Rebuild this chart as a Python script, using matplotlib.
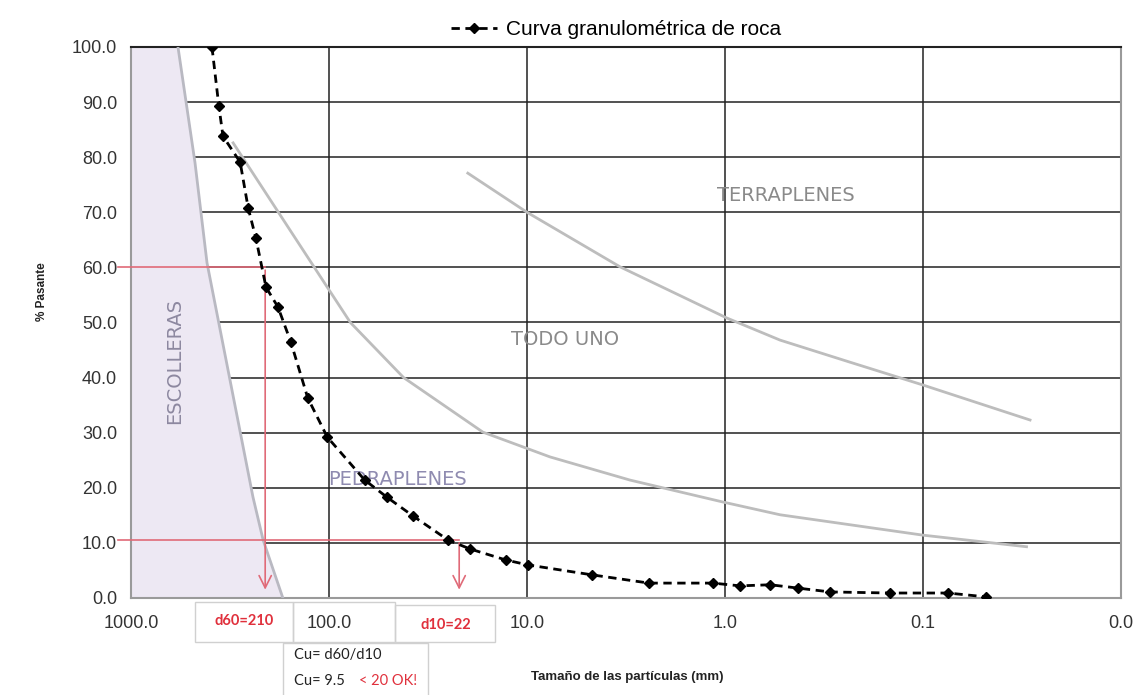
import numpy as np
import matplotlib.pyplot as plt
from matplotlib.ticker import FixedLocator, FuncFormatter

plt.rcParams['font.family'] = ['Liberation Sans', 'DejaVu Sans']

# curva granulometrica medida (tamaño en mm, % que pasa)
tamano = [390, 360, 343, 281, 256, 234, 208, 181, 156, 128, 102, 66, 51, 37.7,
          25, 19.4, 12.8, 9.9, 4.7, 2.42, 1.15, 0.84, 0.59, 0.43, 0.295, 0.147,
          0.0748, 0.048]
pasante = [100, 89.3, 83.8, 79.1, 70.8, 65.3, 56.4, 52.8, 46.5, 36.3, 29.2, 21.4,
           18.3, 14.9, 10.5, 8.9, 6.9, 6.0, 4.2, 2.7, 2.7, 2.2, 2.4, 1.8, 1.1,
           0.9, 0.9, 0.2]

# limites de los husos
escolleras_d = [579, 475, 413, 242, 215, 171]
escolleras_p = [100, 79, 60.8, 18.3, 10.5, 0]

pedraplen_d = [305, 102, 78, 42, 16.7, 7.65, 3.02, 1.02, 0.527, 0.1, 0.030]
pedraplen_p = [82.6, 56.4, 50, 40, 30.1, 25.6, 21.4, 17.4, 15.1, 11.4, 9.3]

terraplen_d = [19.9, 10, 3.39, 0.977, 0.527, 0.234, 0.101, 0.0288]
terraplen_p = [77.1, 70.0, 60.1, 50.8, 46.8, 42.8, 38.7, 32.3]

d60 = 210
d10 = 22
cu = 9.5

x_ticks = [1000, 100, 10, 1, 0.1, 0.01]
y_ticks = [0, 10, 20, 30, 40, 50, 60, 70, 80, 90, 100]

fig = plt.figure(figsize=(11.39, 6.95), dpi=100)
ax = fig.add_axes([0.1150, 0.1396, 0.8692, 0.7928])

ax.set_xscale('log')
ax.set_xlim(1000, 0.01)
ax.set_ylim(0, 100)

# rejilla
for y in y_ticks[1:-1]:
    ax.axhline(y, color='#222222', lw=1.1, zorder=1)
for x in x_ticks[1:-1]:
    ax.axvline(x, color='#222222', lw=1.1, zorder=1)

# zona de escolleras sombreada
ax.fill_betweenx(escolleras_p, escolleras_d, 1000, color='#ede8f3', lw=0, zorder=2)
ax.plot(escolleras_d, escolleras_p, color='#b9b9c2', lw=2, zorder=3)
ax.plot(pedraplen_d, pedraplen_p, color='#bdbdbd', lw=2, zorder=3)
ax.plot(terraplen_d, terraplen_p, color='#bdbdbd', lw=2, zorder=3)

zona = dict(fontsize=14, family='DejaVu Sans', ha='center', va='center', zorder=4)
ax.text(600, 43, 'ESCOLLERAS', rotation=90, color='#8d88a0', **zona)
ax.text(45, 21.5, 'PEDRAPLENES', color='#8f8bb0', **zona)
ax.text(6.4, 47, 'TODO UNO', color='#8a8a8a', **zona)
ax.text(0.49, 73, 'TERRAPLENES', color='#8a8a8a', **zona)

# d60 y d10
red = '#e06a78'
ax.plot([1165, d60], [60, 60], color=red, lw=1.2, clip_on=False, zorder=5)
ax.plot([1165, d10], [10.5, 10.5], color=red, lw=1.2, clip_on=False, zorder=5)
ax.annotate('', xy=(d60, 1.0), xytext=(d60, 60),
            arrowprops=dict(arrowstyle='->', color=red, lw=1.2, mutation_scale=22),
            zorder=5)
ax.annotate('', xy=(d10, 1.0), xytext=(d10, 10.5),
            arrowprops=dict(arrowstyle='->', color=red, lw=1.2, mutation_scale=22),
            zorder=5)

ax.plot(tamano, pasante, color='black', ls=(0, (3, 2)), lw=2, marker='D',
        markersize=5, zorder=6, label='Curva granulométrica de roca')

ax.legend(loc='lower center', bbox_to_anchor=(0.49, 0.995), frameon=False,
          fontsize=15, handlelength=2.2, handletextpad=0.4, borderaxespad=0.1)

ax.xaxis.set_major_locator(FixedLocator(x_ticks))
ax.xaxis.set_minor_locator(FixedLocator([]))
ax.xaxis.set_major_formatter(FuncFormatter(lambda v, p: f'{v:.1f}'))
ax.yaxis.set_major_locator(FixedLocator(y_ticks))
ax.yaxis.set_major_formatter(FuncFormatter(lambda v, p: f'{v:.1f}'))
ax.tick_params(length=0, labelsize=13, labelcolor='#333333')
ax.tick_params(axis='x', pad=12)
ax.tick_params(axis='y', pad=10)

for side in ['left', 'bottom', 'right']:
    ax.spines[side].set_color('#9a9a9a')
    ax.spines[side].set_linewidth(1.5)
ax.spines['top'].set_color('#222222')
ax.spines['top'].set_linewidth(1.5)

fig.text(0.037, 0.58, '% Pasante', rotation=90, fontsize=8.5, fontweight='bold',
         ha='center', va='center', color='#222222')
fig.text(0.551, 0.026, 'Tamaño de las partículas (mm)', fontsize=9.5, fontweight='bold',
         ha='center', va='center', color='#222222')

# cuadros de resultados
borde = '#d0d0d0'
fig.add_artist(plt.Rectangle((195 / 1139, 1 - 642 / 695), 98 / 1139, 40 / 695,
                             transform=fig.transFigure, fc='none', ec=borde, lw=1))
fig.add_artist(plt.Rectangle((293 / 1139, 1 - 642 / 695), 102 / 1139, 40 / 695,
                             transform=fig.transFigure, fc='none', ec=borde, lw=1))
fig.add_artist(plt.Rectangle((395 / 1139, 1 - 642 / 695), 100 / 1139, 37 / 695,
                             transform=fig.transFigure, fc='none', ec=borde, lw=1))
fig.add_artist(plt.Rectangle((283 / 1139, -0.01), 145 / 1139, 0.085,
                             transform=fig.transFigure, fc='none', ec=borde, lw=1))
fig.text(0.214, 0.107, f'd60={d60}', color='#e0303c', fontsize=10.5, family='Lato',
         fontweight='bold', ha='center', va='center')
fig.text(0.391, 0.101, f'd10={d10}', color='#e0303c', fontsize=10.5, family='Lato',
         fontweight='bold', ha='center', va='center')
fig.text(0.258, 0.058, 'Cu= d60/d10', color='#222222', fontsize=10.5, family='Lato',
         ha='left', va='center')
fig.text(0.258, 0.020, f'Cu= {cu}', color='#222222', fontsize=10.5, family='Lato',
         ha='left', va='center')
fig.text(0.315, 0.020, '< 20 OK!', color='#e0303c', fontsize=10.5, family='Lato',
         ha='left', va='center')

fig.savefig('out.png', dpi=100)
